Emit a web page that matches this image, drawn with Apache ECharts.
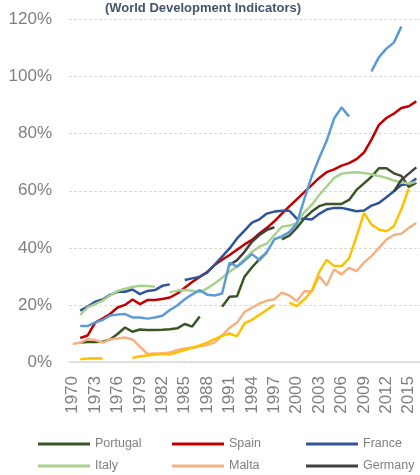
<!DOCTYPE html>
<html>
<head>
<meta charset="utf-8">
<script src="https://cdn.jsdelivr.net/npm/echarts@6/dist/echarts.min.js"></script>
<style>
html,body{margin:0;padding:0;background:#fff;}
#chart{width:420px;height:475px;}
</style>
</head>
<body>
<div id="chart"></div>
<script>
var years = [];
for (var yr = 1970; yr <= 2016; yr++) years.push(String(yr));

var titleText = '(World Development Indicators)';
var yTicks = [0, 20, 40, 60, 80, 100, 120];

var portugal = [null,6.8,7.0,7.0,7.1,7.9,9.8,12.1,10.6,11.4,11.2,11.2,11.3,11.5,11.8,13.3,12.4,15.9,null,null,
  19.4,22.9,23.0,29.9,33.2,36.0,38.4,null,43.0,44.3,47.0,50.3,52.7,54.6,55.4,55.4,55.4,56.8,60.3,62.6,
  64.9,67.9,67.9,66.1,65.2,61.3,62.8];
var spain = [null,8.4,9.3,13.8,15.2,16.8,19.1,20.0,21.9,20.3,21.7,21.7,22.1,22.6,24.0,26.0,28.0,29.8,31.5,34.0,
  35.8,37.5,39.3,41.2,42.8,45.0,47.0,49.3,52.0,54.5,57.0,59.5,62.0,64.5,66.5,67.5,68.8,69.7,71.1,73.4,
  77.9,83.1,85.5,87.0,89.0,89.6,91.3];
var france = [null,18.0,19.4,21.1,21.9,23.5,24.6,24.6,25.4,23.8,24.9,25.2,26.7,27.2,null,28.7,29.3,29.9,31.3,34.0,
  36.9,39.8,43.3,46.0,48.8,50.0,52.0,52.7,53.0,53.0,50.2,50.2,49.9,51.9,53.4,54.0,54.0,53.4,52.8,53.1,
  54.8,55.7,57.7,59.8,62.0,62.4,64.3];
var italy = [null,16.5,19.1,20.3,21.5,23.3,24.9,25.7,26.3,26.7,26.6,26.4,null,24.4,25.0,25.2,25.0,24.4,25.8,27.5,
  29.5,31.6,33.5,36.0,38.6,40.4,41.5,44.5,47.4,47.8,48.6,52.5,55.0,58.5,61.5,64.5,66.0,66.3,66.5,66.2,
  65.8,65.2,64.5,63.6,63.0,62.5,63.2];
var malta = [6.3,6.8,8.0,7.7,6.8,7.9,8.2,8.6,7.9,5.4,2.8,3.0,3.0,3.3,4.2,4.7,5.1,5.4,6.0,6.8,
  9.3,12.0,13.8,17.5,19.0,20.5,21.5,22.0,24.3,23.3,21.3,24.8,24.8,30.0,26.8,32.4,30.7,33.0,31.8,34.8,
  37.1,40.0,42.9,44.5,44.9,47.0,48.7];
var germany = [null,null,null,null,null,null,null,null,null,null,null,null,null,null,null,null,null,null,null,null,
  null,34.0,35.7,38.6,42.1,44.5,46.3,47.2,null,null,null,null,null,null,null,null,null,null,null,null,
  null,null,null,59.8,63.8,66.0,68.2];
var otherA = [null,12.6,12.6,13.9,14.7,16.3,16.6,16.8,15.6,15.6,15.2,15.6,16.2,18.2,19.8,22.0,23.7,25.2,23.6,23.3,
  24.0,34.8,33.4,35.5,37.8,35.7,38.6,43.0,44.0,45.5,48.5,57.0,65.0,71.5,77.5,85.3,89.2,86.0,null,null,
  101.8,106.8,109.8,111.9,117.5,null,null];
var otherB = [null,1.0,1.2,1.3,1.2,null,null,null,1.4,2.0,2.3,2.6,2.8,2.7,3.4,4.2,5.0,5.8,6.8,8.0,
  9.2,10.0,9.0,13.5,14.8,16.5,18.3,20.0,null,20.8,19.6,21.9,24.8,31.5,35.8,33.6,33.6,36.3,44.0,52.2,
  48.2,46.4,45.8,47.6,53.5,60.8,null];

var legendNames = ['Portugal','Spain','France','Italy','Malta','Germany'];

function mk(name, data, color) {
  return {
    name: name, type: 'line', data: data, symbol: 'none', connectNulls: false,
    lineStyle: { color: color, width: 2.5 }, itemStyle: { color: color },
    emphasis: { disabled: true }, animation: false
  };
}

var chart = echarts.init(document.getElementById('chart'), null, { renderer: 'canvas' });
var legendCommon = {
  orient: 'vertical', icon: 'rect', itemWidth: 52, itemHeight: 3, itemGap: 8,
  textStyle: { color: '#7F7F7F', fontSize: 12.5, fontFamily: 'Liberation Sans, Arial, sans-serif', lineHeight: 14 },
  top: 437, padding: 0, selectedMode: false
};
chart.setOption({
  animation: false,
  title: {
    text: titleText, left: 203, top: 2, textAlign: 'center', padding: 0,
    textStyle: { color: '#44546A', fontSize: 13, fontWeight: 'bold', fontFamily: 'Liberation Sans, Arial, sans-serif' }
  },
  legend: [
    Object.assign({}, legendCommon, { left: 38, data: [legendNames[0], legendNames[3]] }),
    Object.assign({}, legendCommon, { left: 172, data: [legendNames[1], legendNames[4]] }),
    Object.assign({}, legendCommon, { left: 306, data: [legendNames[2], legendNames[5]] })
  ],
  grid: { left: 69, top: 19.5, width: 354, height: 342.5, containLabel: false },
  xAxis: {
    type: 'category', data: years, boundaryGap: true,
    axisLine: { lineStyle: { color: '#D9D9D9', width: 1.5 } },
    axisTick: { show: false },
    axisLabel: { interval: 2, rotate: 90, margin: 14, color: '#7F7F7F', fontSize: 17, fontFamily: 'Liberation Sans, Arial, sans-serif' },
    splitLine: { show: false }
  },
  yAxis: {
    type: 'value', min: yTicks[0], max: yTicks[yTicks.length - 1], interval: 20,
    axisLine: { show: false }, axisTick: { show: false },
    axisLabel: { formatter: '{value}%', margin: 17, color: '#7F7F7F', fontSize: 17, fontFamily: 'Liberation Sans, Arial, sans-serif' },
    splitLine: { lineStyle: { color: '#D9D9D9', type: [3, 2], width: 1 } }
  },
  series: [
    mk('Portugal', portugal, '#375623'),
    mk('Spain', spain, '#C00000'),
    mk('France', france, '#2F5597'),
    mk('Italy', italy, '#A9D18E'),
    mk('Malta', malta, '#F4B183'),
    mk('Germany', germany, '#404040'),
    mk('Series A', otherA, '#5B9BD5'),
    mk('Series B', otherB, '#FFC000')
  ]
});
</script>
</body>
</html>
